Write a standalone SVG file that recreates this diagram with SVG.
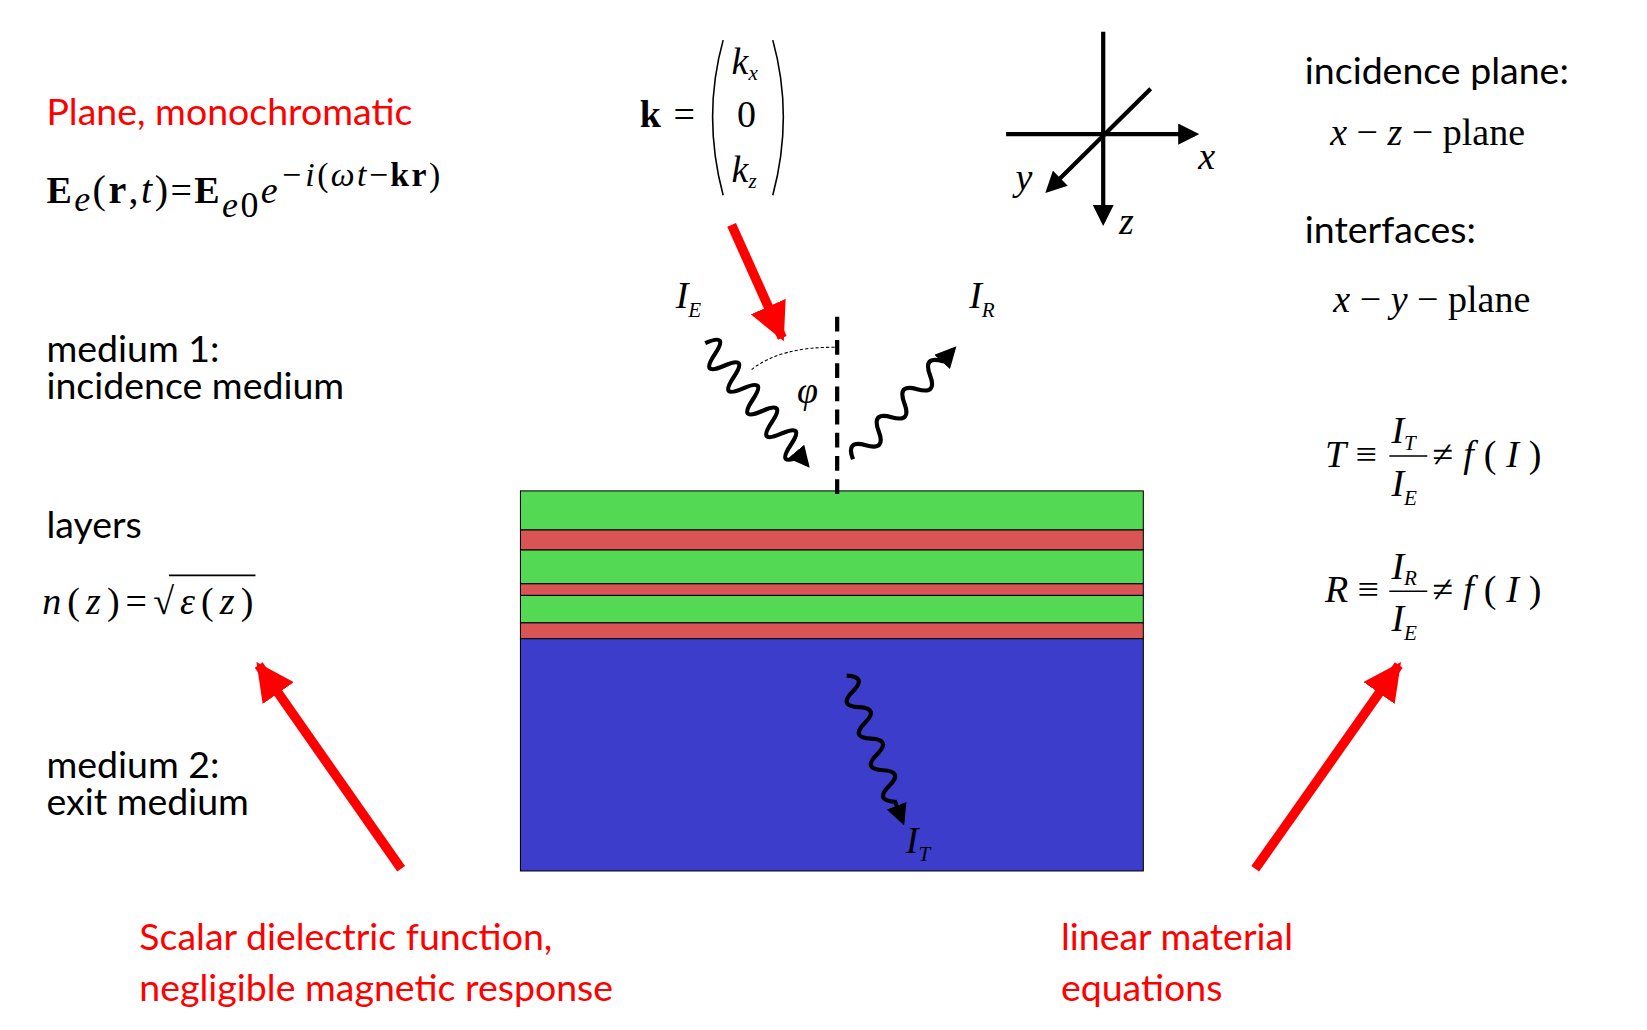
<svg xmlns="http://www.w3.org/2000/svg" width="1647" height="1030" viewBox="0 0 1647 1030">
<defs>
<style>
.s{font-family:Lato,"Open Sans",sans-serif;font-size:35.5px;fill:#000}
.r{fill:#ff0000}
.m{font-family:"Liberation Serif",serif;font-size:36px;fill:#000}
.i{font-style:italic}
.b{font-weight:bold}
.ax{stroke:#000;stroke-width:4;fill:none}
.wv{stroke:#000;stroke-width:4;fill:none}
.ra{stroke:#ff0000;stroke-width:9;fill:none}
</style>
<marker id="ah" viewBox="0 0 10 10" refX="8" refY="5" markerWidth="5" markerHeight="5" orient="auto" markerUnits="strokeWidth"><path d="M0,0 L10,5 L0,10 Z" fill="#000"/></marker>
<marker id="rh" viewBox="0 0 10 10" refX="9" refY="5" markerWidth="4" markerHeight="4" orient="auto" markerUnits="strokeWidth"><path d="M0,0 L10,5 L0,10 Z" fill="#ff0000"/></marker>
</defs>
<rect width="1647" height="1030" fill="#fff"/>
<g transform="scale(1.0557)">
<g id="layers">
<rect x="493" y="465" width="590" height="37" fill="#54d955" stroke="#000"/>
<rect x="493" y="502" width="590" height="19" fill="#d95555" stroke="#000"/>
<rect x="493" y="521" width="590" height="32" fill="#54d955" stroke="#000"/>
<rect x="493" y="553" width="590" height="11" fill="#d95555" stroke="#000"/>
<rect x="493" y="564" width="590" height="26" fill="#54d955" stroke="#000"/>
<rect x="493" y="590" width="590" height="15" fill="#d95555" stroke="#000"/>
<rect x="493" y="605" width="590" height="220" fill="#3d3dcc" stroke="#000"/>
</g>
<g id="connectors">
<line x1="793" y1="300" x2="793" y2="468" stroke="#000" stroke-width="4" stroke-dasharray="14 8"/>
<path d="M712,350 Q740,328 793,329" stroke="#000" stroke-width="1" stroke-dasharray="3 2" fill="none"/>
<path class="wv" transform="translate(668,325) rotate(50)" d="M0,0 q7,-24 14,0 t14,0 t14,0 t14,0 t14,0 t14,0 t14,0 t14,0 t14,0 t14,0 l10,0" marker-end="url(#ah)"/>
<path class="wv" transform="translate(808,435) rotate(-47.5)" d="M0,0 q9,-18 18,0 t18,0 t18,0 t18,0 t18,0 t18,0 t18,0 l15,0" marker-end="url(#ah)"/>
<path class="wv" transform="translate(802,640) rotate(69)" d="M0,0 q8,-18 16,0 t16,0 t16,0 t16,0 t16,0 t16,0 t16,0 t16,0 l20,0" stroke-width="3" marker-end="url(#ah)"/>
<line class="ax" x1="953" y1="127" x2="1132" y2="127" marker-end="url(#ah)"/>
<line class="ax" x1="1045" y1="30" x2="1045" y2="210" marker-end="url(#ah)"/>
<line class="ax" x1="1090" y1="84" x2="993" y2="180" marker-end="url(#ah)"/>
<line class="ra" x1="693" y1="213" x2="741" y2="320" marker-end="url(#rh)"/>
<line class="ra" x1="380" y1="823" x2="245" y2="630" marker-end="url(#rh)"/>
<line class="ra" x1="1189" y1="823" x2="1325" y2="630" marker-end="url(#rh)"/>
</g>
<g id="text-left">
<text class="s r" x="44" y="118">Plane, monochromatic</text>
<text class="m" x="44" y="192" font-size="46" textLength="373"><tspan class="b">E</tspan><tspan class="i" font-size="34" dy="8">e</tspan><tspan font-size="38" dy="-8">(</tspan><tspan class="b" font-size="38">r</tspan><tspan font-size="38">,</tspan><tspan class="i" font-size="38">t</tspan><tspan font-size="38">)</tspan><tspan>=</tspan><tspan class="b">E</tspan><tspan class="i" font-size="34" dy="14">e</tspan><tspan font-size="34">0</tspan><tspan class="i" dy="-14">e</tspan><tspan font-size="32" dy="-16"><tspan class="i">−i</tspan>(<tspan class="i">ωt</tspan>−<tspan class="b">kr</tspan>)</tspan></text>
<text class="s" x="44" y="343">medium 1:</text>
<text class="s" x="44" y="378">incidence medium</text>
<text class="s" x="44" y="510">layers</text>
<text class="m" x="40" y="582" textLength="200"><tspan class="i">n</tspan>(<tspan class="i">z</tspan>)=√<tspan class="i">ε</tspan>(<tspan class="i">z</tspan>)</text>
<line x1="160" y1="545" x2="242" y2="545" stroke="#000" stroke-width="1.5"/>
<text class="s" x="44" y="737">medium 2:</text>
<text class="s" x="44" y="772">exit medium</text>
<text class="s r" x="132" y="900">Scalar dielectric function,</text>
<text class="s r" x="132" y="948">negligible magnetic response</text>
</g>
<g id="text-center">
<text class="m b" x="606" y="120" font-size="48">k</text>
<text class="m" x="638" y="120" font-size="44">=</text>
<path d="M685,38 Q665,110 685,185 M732,38 Q752,110 732,185" stroke="#000" stroke-width="1.5" fill="none"/>
<text class="m" x="693" y="70" font-size="34"><tspan class="i">k</tspan><tspan class="i" font-size="20" dy="6">x</tspan></text>
<text class="m" x="698" y="120" font-size="34">0</text>
<text class="m" x="693" y="172" font-size="34"><tspan class="i">k</tspan><tspan class="i" font-size="20" dy="6">z</tspan></text>
<text class="m i" x="1135" y="160">x</text>
<text class="m i" x="962" y="180">y</text>
<text class="m i" x="1060" y="222">z</text>
<text class="m i" x="640" y="292">I<tspan font-size="20" dy="8">E</tspan></text>
<text class="m i" x="918" y="292">I<tspan font-size="20" dy="8">R</tspan></text>
<text class="m i" x="858" y="808">I<tspan font-size="20" dy="8">T</tspan></text>
<text class="m i" x="755" y="382" font-size="30">φ</text>
</g>
<g id="text-right">
<text class="s" x="1236" y="80">incidence plane:</text>
<text class="m" x="1260" y="137"><tspan class="i">x</tspan> − <tspan class="i">z</tspan> − plane</text>
<text class="s" x="1236" y="230">interfaces:</text>
<text class="m" x="1263" y="296"><tspan class="i">x</tspan> − <tspan class="i">y</tspan> − plane</text>
<text class="m" x="1255" y="442"><tspan class="i">T</tspan> ≡</text>
<text class="m i" x="1318" y="420">I<tspan font-size="20" dy="6">T</tspan></text>
<line x1="1316" y1="432" x2="1352" y2="432" stroke="#000" stroke-width="1.5"/>
<text class="m i" x="1318" y="470">I<tspan font-size="20" dy="8">E</tspan></text>
<text class="m" x="1357" y="442" textLength="103">≠ <tspan class="i">f</tspan> ( <tspan class="i">I</tspan> )</text>
<text class="m" x="1255" y="570"><tspan class="i">R</tspan> ≡</text>
<text class="m i" x="1318" y="548">I<tspan font-size="20" dy="6">R</tspan></text>
<line x1="1316" y1="560" x2="1352" y2="560" stroke="#000" stroke-width="1.5"/>
<text class="m i" x="1318" y="598">I<tspan font-size="20" dy="8">E</tspan></text>
<text class="m" x="1357" y="570" textLength="103">≠ <tspan class="i">f</tspan> ( <tspan class="i">I</tspan> )</text>
<text class="s r" x="1005" y="900">linear material</text>
<text class="s r" x="1005" y="948">equations</text>
</g>
</g>
</svg>
